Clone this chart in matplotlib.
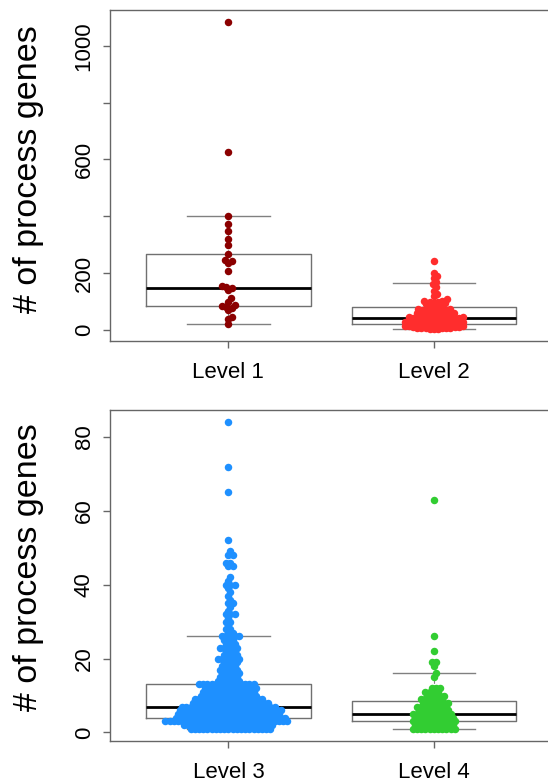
import numpy as np
import matplotlib
matplotlib.use('Agg')
import matplotlib.pyplot as plt

plt.rcParams['font.family'] = ['Liberation Sans', 'DejaVu Sans']

# ---- data ----
level_names_top = ['Level 1', 'Level 2']
level_names_bottom = ['Level 3', 'Level 4']

level1_values = [21, 38, 47, 70, 78, 82, 85, 88, 100, 111, 141, 148, 152, 155,
                 207, 237, 242, 246, 267, 299, 319, 349, 372, 402, 627, 1083]

level2_values = [2, 5, 8, 11, 14, 17, 20, 23, 26, 29, 32, 35, 38, 41, 44, 47, 50,
                 54, 58, 62, 66, 70, 74, 78, 82, 86, 90, 94, 98, 102, 108, 118,
                 128, 138, 150, 160, 170, 182, 190, 200, 244]
level2_counts = [3, 3, 3, 3, 3, 3, 3, 3, 3, 3, 3, 3, 3, 3, 2, 3, 2,
                 3, 2, 3, 2, 2, 2, 1, 2, 1, 1, 2, 2, 2, 1, 1,
                 1, 1, 1, 1, 1, 1, 1, 1, 1]

level3_values = [1, 2, 3, 4, 5, 6, 7, 8, 9, 10, 11, 12, 13, 14, 15, 16, 17, 18,
                 19, 20, 21, 22, 23, 24, 25, 26, 27, 28, 29, 30, 31, 32, 33, 34,
                 35, 36, 37, 38, 39, 40, 41, 42, 45, 46, 48, 49, 52, 65, 72, 84]
level3_counts = [20, 22, 30, 27, 25, 25, 23, 19, 17, 14, 13, 13, 14, 6, 5, 5, 5, 4,
                 4, 6, 4, 3, 5, 3, 3, 5, 2, 2, 1, 2, 1, 3, 1, 1,
                 2, 1, 1, 1, 1, 3, 1, 1, 2, 2, 2, 1, 1, 1, 1, 1]

level4_values = [1, 2, 3, 4, 5, 6, 7, 8, 9, 10, 11, 12, 15, 16, 18, 19, 22, 26, 63]
level4_counts = [11, 10, 11, 10, 10, 8, 8, 7, 6, 5, 4, 3, 1, 1, 1, 2, 1, 1, 1]

# box statistics (q1, median, q3, lower whisker, upper whisker)
box_top = {'q1': [85, 21], 'med': [148, 41], 'q3': [266, 80],
           'whislo': [22, 3], 'whishi': [401, 166]}
box_bottom = {'q1': [4, 3], 'med': [7, 5], 'q3': [13, 8.5],
              'whislo': [1, 1], 'whishi': [26, 16]}

colors_top = ['#8B0000', '#FF2D2D']
colors_bottom = ['#1E90FF', '#32CD32']

W, H = 548, 784
DPI = 100
SPACING = 4.2   # swarm spacing in pixels
DOT = 7.5       # dot diameter in pixels


def swarm(ax, xpos, values):
    """beeswarm-style 'swarm' layout, ascending priority, done in pixel space"""
    values = np.asarray(values, dtype=float)
    pts = ax.transData.transform(np.column_stack([np.full(len(values), xpos), values]))
    ypx = pts[:, 1]
    ppu = ax.transData.transform((1, 0))[0] - ax.transData.transform((0, 0))[0]
    order = np.argsort(ypx, kind='stable')
    px_x, px_y = [], []
    xoff = np.zeros(len(values))
    for i in order:
        yi = ypx[i]
        x = 0.0
        if px_x:
            xs = np.array(px_x)
            ys = np.array(px_y)
            dy = np.abs(yi - ys)
            near = dy < SPACING
            if near.any():
                d = np.sqrt(SPACING ** 2 - dy[near] ** 2)
                cands = np.concatenate([[0.0], xs[near] + d, xs[near] - d])
                bad = (((cands[:, None] - xs[None, :]) ** 2 + (yi - ys[None, :]) ** 2)
                       < SPACING ** 2 * 0.999).any(axis=1)
                cands = np.where(bad, np.inf, cands)
                x = cands[np.argmin(np.abs(cands))]
        px_x.append(x)
        px_y.append(yi)
        xoff[i] = x
    return xpos + xoff / ppu, values


def draw_panel(ax, names, groups, stats, colors, ylim, yticks, yticklabels, label_y):
    ax.set_xlim(0.4235, 2.58)
    ax.set_ylim(*ylim)
    bstats = []
    for k in range(2):
        bstats.append({'q1': stats['q1'][k], 'med': stats['med'][k], 'q3': stats['q3'][k],
                       'whislo': stats['whislo'][k], 'whishi': stats['whishi'][k],
                       'fliers': []})
    ax.bxp(bstats, positions=[1, 2], widths=0.8, capwidths=0.4, showfliers=False,
           boxprops=dict(color='#707070', linewidth=1.0),
           medianprops=dict(color='black', linewidth=2.0),
           whiskerprops=dict(color='#808080', linewidth=0.8, linestyle='--'),
           capprops=dict(color='#808080', linewidth=1.0), zorder=1)
    for k, vals in enumerate(groups):
        xs, ys = swarm(ax, k + 1, vals)
        ax.scatter(xs, ys, s=(DOT * 72 / DPI) ** 2, color=colors[k], linewidths=0,
                   zorder=3)
    ax.set_xticks([1, 2])
    ax.set_xticklabels(names)
    ax.set_yticks(yticks)
    ax.set_yticklabels(yticklabels)
    for sp in ax.spines.values():
        sp.set_color('#666666')
        sp.set_linewidth(1.0)
    ax.tick_params(axis='both', colors='#666666', length=5, width=1.0, labelsize=16,
                   labelcolor='black')
    ax.tick_params(axis='x', pad=10)
    ax.tick_params(axis='y', pad=6)
    for lab in ax.get_yticklabels():
        lab.set_rotation(90)
        lab.set_va('center')
    ax.set_ylabel('# of process genes', fontsize=24.5, va='center')
    ax.yaxis.set_label_coords(-0.183, label_y)


fig = plt.figure(figsize=(W / DPI, H / DPI), dpi=DPI)
ax1 = fig.add_axes([110 / W, 1 - 341 / H, 443 / W, 331 / H])
ax2 = fig.add_axes([110 / W, 1 - 741 / H, 443 / W, 331 / H])

level2_all = np.repeat(level2_values, level2_counts)
level3_all = np.repeat(level3_values, level3_counts)
level4_all = np.repeat(level4_values, level4_counts)

draw_panel(ax1, level_names_top, [level1_values, level2_all], box_top, colors_top,
           (-39, 1126), [0, 200, 400, 600, 800, 1000], ['0', '200', '', '600', '', '1000'],
           0.52)
draw_panel(ax2, level_names_bottom, [level3_all, level4_all], box_bottom, colors_bottom,
           (-2.32, 87.32), [0, 20, 40, 60, 80], ['0', '20', '40', '60', '80'], 0.525)

fig.savefig('out.png', dpi=DPI)
